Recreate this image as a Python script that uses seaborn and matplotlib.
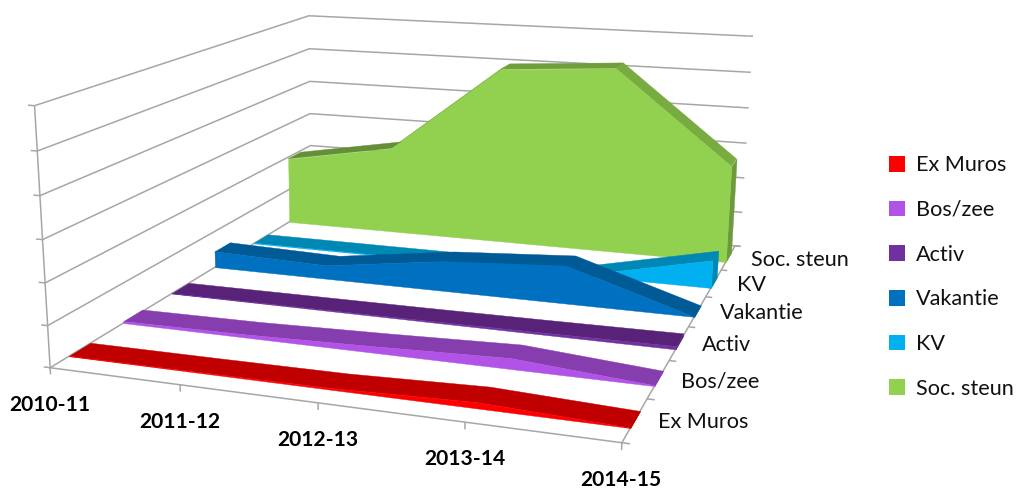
import numpy as np
import matplotlib
matplotlib.use("Agg")
import matplotlib.pyplot as plt
from matplotlib.patches import Patch
from mpl_toolkits.mplot3d import Axes3D, proj3d
from mpl_toolkits.mplot3d.art3d import Poly3DCollection, Line3DCollection
import seaborn as sns

years = ["2010-11", "2011-12", "2012-13", "2013-14", "2014-15"]
series = ["Ex Muros", "Bos/zee", "Activ", "Vakantie", "KV", "Soc. steun"]
ex_muros = [0.01, 0.02, 0.04, 0.14, 0.01]
bos_zee = [0.05, 0.08, 0.16, 0.26, 0.02]
activ = [0.01, 0.02, 0.03, 0.05, 0.08]
vakantie = [0.45, 0.37, 0.8, 1.0, 0.0]
kv = [0.02, 0.02, 0.02, 0.05, 0.75]
soc_steun = [1.95, 2.5, 5.0, 5.2, 2.7]
values = [ex_muros, bos_zee, activ, vakantie, kv, soc_steun]

front_colors = ["#FF0000", "#B253E8", "#7030A0", "#0070C0", "#00B0F0", "#92D050"]
top_colors = ["#C00000", "#863DAE", "#572277", "#005A96", "#0088B5", "#76AB40"]
side_colors = ["#C00000", "#863DAE", "#572277", "#005A96", "#0088B5", "#6C9A3C"]
green_tops = ["#648E38", "#78AD40", "#6F9F3C", "#78AB40"]
grid_color = "#A6A6A6"

# Camera calibration of the 3D box (category, series, value) -> picture position
cam_world = np.array([(0,0,0),(1,0,0),(2,0,0),(3,0,0),(4,0,0),
                      (4,1,0),(4,2,0),(4,3,0),(4,4,0),(4,5,0),(4,6,0),
                      (0,6,0),(0,6,6),(4,6,6),
                      (0,0,1),(0,0,2),(0,0,3),(0,0,4),(0,0,5),(0,0,6)], float)
cam_pixel = np.array([(50,367),(180,386),(318,403),(465,423),(622,443),
                      (647,399),(669,361),(688,327),(706,296),(721,269),(735,245),
                      (312,210),(308,15),(748,37),
                      (47.5,325),(45,282),(42.5,239),(40,196),(37.5,151),(35,106)], float)

W, H = 1016, 488
rows = []
for (X, Y, Z), (px, py) in zip(cam_world, cam_pixel):
    v = H - py
    rows.append([X, Y, Z, 1, 0, 0, 0, 0, -px*X, -px*Y, -px*Z, -px])
    rows.append([0, 0, 0, 0, X, Y, Z, 1, -v*X, -v*Y, -v*Z, -v])
P = np.linalg.svd(np.array(rows))[2][-1].reshape(3, 4)
M = np.vstack([P[0], P[1], [0, P[2, 3], 0, 0], P[2]])
M = M / P[2, 3]

sns.set_theme(style="white")
plt.rcParams["font.family"] = ["Lato", "DejaVu Sans"]
fig = plt.figure(figsize=(W/100, H/100), dpi=100)
ax = fig.add_axes([0, 0, 1, 1], projection="3d")
ax.apply_aspect = lambda position=None: None
ax.get_proj = lambda: M
ax.viewLim.intervalx = (0, W)
ax.viewLim.intervaly = (0, H)
ax.set_axis_off()
ax.computed_zorder = False

n_x = len(years)
n_y = len(series)
n_z = 6
segments = []
for z in range(n_z + 1):
    segments.append([(0, 0, z), (0, n_y, z), (n_x-1, n_y, z)])
    segments.append([(-0.05, 0, z), (0, 0, z)])
    segments.append([(n_x-1, n_y, z), (n_x-1+0.045, n_y, z)])
segments.append([(0, 0, 0), (0, 0, n_z)])
segments.append([(0, 0, 0), (n_x-1, 0, 0)])
segments.append([(n_x-1, 0, 0), (n_x-1, n_y, 0)])
for i in range(n_x):
    segments.append([(i, 0, 0), (i, 0, -0.16)])
for j in range(n_y + 1):
    segments.append([(n_x-1, j, 0), (n_x-1+0.05, j, 0)])
ax.add_collection3d(Line3DCollection(segments, colors=grid_color, linewidths=1.1, zorder=1),
                    autolim=False)

y_front, y_back = 0.32, 0.70
z_order = 3
for j in range(n_y - 1, -1, -1):
    vals = values[j]
    y0, y1 = j + y_front, j + y_back
    xs = list(range(n_x))
    if j == n_y - 1:
        tops = [[(i, y0, vals[i]), (i+1, y0, vals[i+1]), (i+1, y1, vals[i+1]), (i, y1, vals[i])]
                for i in range(n_x-1)]
        top_fc = green_tops
    else:
        tops = [[(x, y0, v) for x, v in zip(xs, vals)]
                + [(x, y1, v) for x, v in zip(xs[::-1], vals[::-1])]]
        top_fc = [top_colors[j]]
    side = [[(n_x-1, y0, 0), (n_x-1, y1, 0), (n_x-1, y1, vals[-1]), (n_x-1, y0, vals[-1])]]
    front = [[(xs[0], y0, 0)] + [(x, y0, v) for x, v in zip(xs, vals)] + [(xs[-1], y0, 0)]]
    for verts, fc in ((side, [side_colors[j]]), (tops, top_fc), (front, [front_colors[j]])):
        coll = Poly3DCollection(verts, facecolors=fc, edgecolors=fc, linewidths=0.3, zorder=z_order)
        ax.add_collection3d(coll, autolim=False)
        z_order += 1

def project(x, y, z):
    px, py, _ = proj3d.proj_transform(x, y, z, M)
    return float(px), float(py)

for i, lab in enumerate(years):
    px, py = project(i, 0, 0)
    ax.text2D(px - 0.5, py - 37, lab, transform=ax.transData, ha="center", va="center",
              fontsize=15.1, fontweight="bold", color="black", zorder=50)

for j, lab in enumerate(series):
    px, py = project(n_x-1, j+0.5, 0)
    ax.text2D(px + 23, py - 2, lab, transform=ax.transData, ha="left", va="center",
              fontsize=15.6, color="#111111", zorder=50)

palette = sns.color_palette(front_colors)
handles = [Patch(facecolor=c, edgecolor="none", label=s) for c, s in zip(palette, series)]
fig.legend(handles=handles, loc="center left", bbox_to_anchor=(889/W, 1-277/H),
           frameon=False, fontsize=15.6, labelspacing=1.14, handlelength=0.74,
           handleheight=0.74, handletextpad=0.5, borderpad=0, borderaxespad=0,
           labelcolor="#111111")

fig.savefig("out.png", dpi=100)
